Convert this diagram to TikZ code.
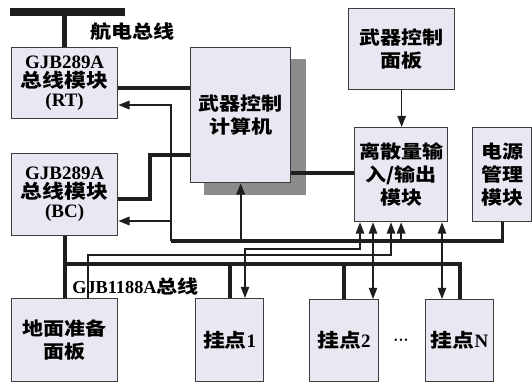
\documentclass[tikz,border=0pt]{standalone}
\usepackage{fontspec}
\setmainfont{Liberation Serif}
\newfontfamily\cjk{Noto Sans CJK SC}[FakeStretch=1.15]
\usepackage{xcolor}
\usepackage{tikz}
\usetikzlibrary{positioning, calc, arrows.meta}
\definecolor{BoxFill}{RGB}{232,232,242}
\definecolor{BoxLine}{RGB}{60,60,60}
\definecolor{ShadeGray}{RGB}{140,140,140}
\definecolor{WireBlack}{RGB}{30,30,30}
\tikzset{
    blockbox/.style={
        draw=BoxLine, fill=BoxFill, line width=0.9pt, inner sep=0pt,
        align=center, anchor=north west,
        font=\bfseries\cjk\fontsize{13}{16.5}\selectfont
    },
    busbox/.style={
        blockbox, font=\bfseries\fontsize{13.5}{13.5}\selectfont
    },
    shadebox/.style={
        fill=ShadeGray, inner sep=0pt, anchor=north west
    },
    lbl/.style={
        font=\bfseries\fontsize{13}{15}\selectfont, inner sep=0pt
    },
    avbus/.style={line width=5pt, WireBlack},
    bus/.style={line width=2.8pt, WireBlack},
    pwrline/.style={line width=2.2pt, WireBlack},
    pwrtap/.style={line width=1.4pt, WireBlack},
    sig/.style={line width=0.8pt, WireBlack}
}
\begin{document}
\begin{tikzpicture}[x=0.025cm, y=-0.025cm, >={Triangle[length=8pt,width=6pt]}]
    \useasboundingbox (0,0) rectangle (532,383);

    % --- 航电总线 ---
    \coordinate (avL) at (10,12);
    \coordinate (avR) at (125,12);
    \node[lbl, anchor=west] (avlbl) at (90,32) {\cjk 航电总线};

    % --- Khối chính ---
    \node[busbox, minimum width=2.65cm, minimum height=1.775cm] (rt) at (11,47)
        {GJB289A\\{\cjk 总线模块}\\(RT)};
    \node[busbox, minimum width=2.65cm, minimum height=2.05cm] (bc) at (11,153)
        {GJB289A\\{\cjk 总线模块}\\(BC)};
    \node[shadebox, minimum width=2.55cm, minimum height=3.4cm] (cpushade) at (204,59) {};
    \node[blockbox, minimum width=2.5cm, minimum height=3.375cm] (cpu) at (190,47)
        {武器控制\\计算机};
    \node[blockbox, minimum width=2.65cm, minimum height=2.025cm] (panel) at (348,8)
        {武器控制\\面板};
    \node[blockbox, minimum width=2.325cm, minimum height=2.35cm] (dio) at (354,127)
        {离散量输\\入/输出\\模块};
    \node[blockbox, minimum width=1.475cm, minimum height=2.35cm] (pwr) at (472,127)
        {电源\\管理\\模块};

    % --- Hàng dưới ---
    \node[blockbox, minimum width=2.65cm, minimum height=2.075cm] (gnd) at (11,298)
        {地面准备\\面板};
    \node[busbox, minimum width=1.7cm, minimum height=2.075cm] (hp1) at (195,298)
        {{\cjk 挂点}1};
    \node[busbox, minimum width=1.725cm, minimum height=2.05cm] (hp2) at (309,299)
        {{\cjk 挂点}2};
    \node[busbox, minimum width=1.7cm, minimum height=2.05cm] (hpN) at (425,299)
        {{\cjk 挂点}N};
    \node[lbl, font=\fontsize{7}{7}\selectfont] (dots) at (401,341) {\textbullet\,\textbullet\,\textbullet};

    % --- Avionics bus ---
    \draw[avbus] (avL) -- (avR);
    \draw[line width=3.5pt, WireBlack] (rt.north |- avL) -- (rt.north);

    % --- Data links ---
    \draw[bus] (rt.east |- 0,88) -- (cpu.west |- 0,88);
    \draw[bus] (bc.east |- 0,199) -| (150,155) -- (cpu.west |- 0,155);
    \draw[bus] (cpu.east |- 0,173) -- (dio.west |- 0,173);
    \draw[line width=1.2pt, WireBlack, ->] (panel.south) -- (panel.south |- dio.north);

    % --- Power ---
    \coordinate (pj) at (171,241);
    \draw[pwrline] (pwr.south) |- (pj);
    \draw[pwrtap, ->] (pj) |- (rt.east |- 0,105);
    \draw[pwrtap, ->] (pj |- 0,221) -- (bc.east |- 0,221);
    \draw[pwrtap, ->] (cpu.south |- pj) -- (cpu.south);
    \draw[pwrtap, ->] (dio.south |- pj) -- (dio.south);

    % --- Discrete signals ---
    \draw[sig, <->] (hp1.north -| 245,0) |- (360,249) -- (dio.south -| 360,0);
    \draw[sig, ->] (gnd.north -| 88,0) |- (391,255) -- (dio.south -| 391,0);
    \draw[sig, <->] (hp2.north -| 373,0) -- (dio.south -| 373,0);
    \draw[sig, <->] (hpN.north -| 442,0) -- (dio.south -| 442,0);

    % --- GJB1188A bus ---
    \draw[bus] (bc.south) -- (gnd.north);
    \draw[bus] (bc.south |- 0,264) -| (hpN.north);
    \draw[bus] (hp1.north |- 0,264) -- (hp1.north);
    \draw[bus] (hp2.north |- 0,264) -- (hp2.north);
    \node[lbl, anchor=west] (buslbl) at (72,287) {GJB1188A{\cjk 总线}};
\end{tikzpicture}
\end{document}
